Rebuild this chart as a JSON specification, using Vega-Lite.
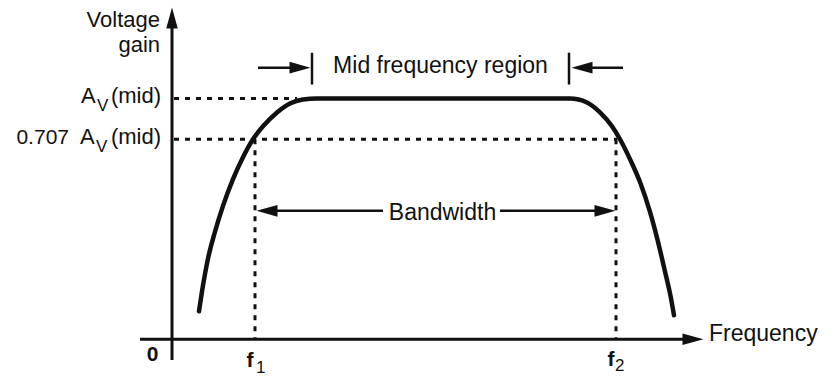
{
  "$schema": "https://vega.github.io/schema/vega-lite/v6.json",
  "width": 837,
  "height": 376,
  "autosize": {"type": "fit", "contains": "padding"},
  "padding": 0,
  "background": "white",
  "config": {"view": {"stroke": null}},
  "resolve": {"scale": {"x": "shared", "y": "shared"}},
  "layer": [
    {
      "data": {"values": [
        {"x": 2, "x2": 125, "y": 242, "y2": 242},
        {"x": 2, "x2": 445, "y": 201, "y2": 201},
        {"x": 83, "x2": 83, "y": 201, "y2": 0},
        {"x": 444, "x2": 444, "y": 201, "y2": 0}
      ]},
      "mark": {"type": "rule", "color": "#111", "strokeWidth": 3, "strokeDash": [5, 6]},
      "encoding": {
        "x": {"field": "x", "type": "quantitative", "scale": {"domain": [-172, 665], "nice": false, "zero": false}, "axis": null},
        "x2": {"field": "x2"},
        "y": {"field": "y", "type": "quantitative", "scale": {"domain": [-35, 341], "nice": false, "zero": false}, "axis": null},
        "y2": {"field": "y2"}
      }
    },
    {
      "data": {"values": [
        {"x": 0, "x2": 0, "y": -21, "y2": 318},
        {"x": -32, "x2": 515, "y": 0, "y2": 0}
      ]},
      "mark": {"type": "rule", "color": "#111", "strokeWidth": 3},
      "encoding": {
        "x": {"field": "x", "type": "quantitative"},
        "x2": {"field": "x2"},
        "y": {"field": "y", "type": "quantitative"},
        "y2": {"field": "y2"}
      }
    },
    {
      "data": {"values": [
        {"i": 1, "x": 27, "y": 28},
        {"i": 2, "x": 31, "y": 54},
        {"i": 3, "x": 36, "y": 81},
        {"i": 4, "x": 43, "y": 108},
        {"i": 5, "x": 51, "y": 134},
        {"i": 6, "x": 61, "y": 161},
        {"i": 7, "x": 71, "y": 183},
        {"i": 8, "x": 81, "y": 201},
        {"i": 9, "x": 91, "y": 214},
        {"i": 10, "x": 105, "y": 228},
        {"i": 11, "x": 118, "y": 237},
        {"i": 12, "x": 131, "y": 241},
        {"i": 13, "x": 145, "y": 242},
        {"i": 14, "x": 398, "y": 242},
        {"i": 15, "x": 415, "y": 238},
        {"i": 16, "x": 428, "y": 228},
        {"i": 17, "x": 440, "y": 214},
        {"i": 18, "x": 448, "y": 201},
        {"i": 19, "x": 458, "y": 181},
        {"i": 20, "x": 468, "y": 158},
        {"i": 21, "x": 478, "y": 128},
        {"i": 22, "x": 486, "y": 98},
        {"i": 23, "x": 493, "y": 68},
        {"i": 24, "x": 499, "y": 41},
        {"i": 25, "x": 502, "y": 24}
      ]},
      "mark": {"type": "line", "color": "#111", "strokeWidth": 4.5, "interpolate": "monotone", "strokeCap": "round"},
      "encoding": {
        "x": {"field": "x", "type": "quantitative"},
        "y": {"field": "y", "type": "quantitative"},
        "order": {"field": "i", "type": "quantitative"}
      }
    },
    {
      "data": {"values": [
        {"x": 140, "x2": 140, "y": 256, "y2": 288},
        {"x": 397, "x2": 397, "y": 256, "y2": 288},
        {"x": 86, "x2": 128, "y": 273, "y2": 273},
        {"x": 410, "x2": 451, "y": 273, "y2": 273},
        {"x": 95, "x2": 211, "y": 129, "y2": 129},
        {"x": 328, "x2": 433, "y": 129, "y2": 129}
      ]},
      "mark": {"type": "rule", "color": "#111", "strokeWidth": 2.5},
      "encoding": {
        "x": {"field": "x", "type": "quantitative"},
        "x2": {"field": "x2"},
        "y": {"field": "y", "type": "quantitative"},
        "y2": {"field": "y2"}
      }
    },
    {
      "data": {"values": [
        {"x": 0, "y": 323, "dir": "up"},
        {"x": 521, "y": 0, "dir": "right"},
        {"x": 128, "y": 273, "dir": "right"},
        {"x": 410, "y": 273, "dir": "left"},
        {"x": 95, "y": 129, "dir": "left"},
        {"x": 433, "y": 129, "dir": "right"}
      ]},
      "mark": {"type": "point", "filled": true, "color": "#111", "opacity": 1, "size": 440, "strokeWidth": 0},
      "encoding": {
        "x": {"field": "x", "type": "quantitative"},
        "y": {"field": "y", "type": "quantitative"},
        "shape": {
          "field": "dir", "type": "nominal", "legend": null,
          "scale": {
            "domain": ["up", "right", "left"],
            "range": ["M0,-1L0.55,1L-0.55,1Z", "M1,0L-1,-0.55L-1,0.55Z", "M-1,0L1,-0.55L1,0.55Z"]
          }
        }
      }
    },
    {
      "data": {"values": [
        {"x": -12, "y": 314, "label": "Voltage"},
        {"x": -12, "y": 289, "label": "gain"}
      ]},
      "mark": {"type": "text", "align": "right", "baseline": "alphabetic", "fontSize": 22, "font": "Liberation Sans", "color": "#111"},
      "encoding": {
        "x": {"field": "x", "type": "quantitative"},
        "y": {"field": "y", "type": "quantitative"},
        "text": {"field": "label"}
      }
    },
    {
      "data": {"values": [
        {"x": -11, "y": 237, "label": "(mid)"},
        {"x": -11, "y": 196, "label": "(mid)"}
      ]},
      "mark": {"type": "text", "align": "right", "baseline": "alphabetic", "fontSize": 22, "font": "Liberation Sans", "color": "#111"},
      "encoding": {
        "x": {"field": "x", "type": "quantitative"},
        "y": {"field": "y", "type": "quantitative"},
        "text": {"field": "label"}
      }
    },
    {
      "data": {"values": [
        {"x": -103, "y": 196, "label": "0.707"}
      ]},
      "mark": {"type": "text", "align": "right", "baseline": "alphabetic", "fontSize": 21, "font": "Liberation Sans", "color": "#111"},
      "encoding": {
        "x": {"field": "x", "type": "quantitative"},
        "y": {"field": "y", "type": "quantitative"},
        "text": {"field": "label"}
      }
    },
    {
      "data": {"values": [
        {"x": -91, "y": 237, "label": "A"},
        {"x": -92, "y": 196, "label": "A"}
      ]},
      "mark": {"type": "text", "align": "left", "baseline": "alphabetic", "fontSize": 22, "font": "Liberation Sans", "color": "#111"},
      "encoding": {
        "x": {"field": "x", "type": "quantitative"},
        "y": {"field": "y", "type": "quantitative"},
        "text": {"field": "label"}
      }
    },
    {
      "data": {"values": [
        {"x": 537, "y": -2, "label": "Frequency"}
      ]},
      "mark": {"type": "text", "align": "left", "baseline": "alphabetic", "fontSize": 23, "font": "Liberation Sans", "color": "#111"},
      "encoding": {
        "x": {"field": "x", "type": "quantitative"},
        "y": {"field": "y", "type": "quantitative"},
        "text": {"field": "label"}
      }
    },
    {
      "data": {"values": [
        {"x": 268.5, "y": 268, "label": "Mid frequency region"},
        {"x": 270.5, "y": 120, "label": "Bandwidth"}
      ]},
      "mark": {"type": "text", "align": "center", "baseline": "alphabetic", "fontSize": 23, "font": "Liberation Sans", "color": "#111"},
      "encoding": {
        "x": {"field": "x", "type": "quantitative"},
        "y": {"field": "y", "type": "quantitative"},
        "text": {"field": "label"}
      }
    },
    {
      "data": {"values": [
        {"x": -19.5, "y": -22, "label": "0"},
        {"x": 78, "y": -28, "label": "f"},
        {"x": 439, "y": -27, "label": "f"}
      ]},
      "mark": {"type": "text", "align": "center", "baseline": "alphabetic", "fontSize": 21, "font": "Liberation Sans", "fontWeight": "bold", "color": "#111"},
      "encoding": {
        "x": {"field": "x", "type": "quantitative"},
        "y": {"field": "y", "type": "quantitative"},
        "text": {"field": "label"}
      }
    },
    {
      "data": {"values": [
        {"x": -75, "y": 229, "label": "V"},
        {"x": -76, "y": 188, "label": "V"},
        {"x": 84, "y": -34, "label": "1"},
        {"x": 443, "y": -32, "label": "2"}
      ]},
      "mark": {"type": "text", "align": "left", "baseline": "alphabetic", "fontSize": 17, "font": "Liberation Sans", "color": "#111"},
      "encoding": {
        "x": {"field": "x", "type": "quantitative"},
        "y": {"field": "y", "type": "quantitative"},
        "text": {"field": "label"}
      }
    }
  ]
}
